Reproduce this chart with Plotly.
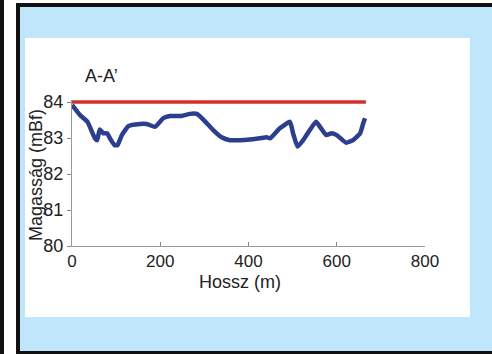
import plotly.graph_objects as go

# Profile A-A': terrain elevation along the section line
distance_m = [0, 18, 35, 52, 57, 63, 71, 80, 86, 97, 103, 113, 128, 154, 169, 188,
              207, 222, 248, 267, 283, 297, 320, 339, 358, 381, 403, 425, 441, 449,
              471, 494, 501, 511, 524, 539, 553, 562, 576, 588, 600, 621, 637, 653,
              660, 664]
elevation_mbf = [83.92, 83.64, 83.45, 82.99, 82.94, 83.24, 83.13, 83.13, 82.99, 82.80,
                 82.80, 83.08, 83.33, 83.39, 83.39, 83.31, 83.55, 83.61, 83.61, 83.67,
                 83.67, 83.52, 83.22, 83.02, 82.94, 82.94, 82.96, 82.99, 83.02, 82.99,
                 83.27, 83.45, 83.13, 82.76, 82.94, 83.22, 83.45, 83.31, 83.08, 83.13,
                 83.08, 82.87, 82.94, 83.13, 83.41, 83.55]

# Reference level along the section
level_x = [0, 666]
level_y = [84, 84]

x_ticks = [0, 200, 400, 600, 800]
y_ticks = [80, 81, 82, 83, 84]

W, H = 492, 354
L, R, T, B = 72, 67, 100, 108
PW, PH = W - L - R, H - T - B
Y0, Y1 = 80, 84 + 2 / 36


def px(x):
    return (x - L) / PW


def py(y):
    return (H - B - y) / PH


def rect(x0, y0, x1, y1, color):
    return dict(type="rect", xref="paper", yref="paper", layer="below",
                x0=px(x0), x1=px(x1), y0=py(y1), y1=py(y0),
                fillcolor=color, line=dict(width=0))


font = "Liberation Sans, Arial, sans-serif"

fig = go.Figure()
fig.add_trace(go.Scatter(x=level_x, y=level_y, mode="lines",
                         line=dict(color="#d2302c", width=3.5), hoverinfo="skip"))
fig.add_trace(go.Scatter(x=distance_m, y=elevation_mbf, mode="lines",
                         line=dict(color="#2c3e8e", width=4.5, shape="spline",
                                   smoothing=0.4)))

fig.update_layout(
    width=W, height=H,
    margin=dict(l=L, r=R, t=T, b=B, pad=0),
    paper_bgcolor="white", plot_bgcolor="white",
    showlegend=False,
    font=dict(family=font, size=18, color="#222"),
    shapes=[
        rect(0, 0, 4, 354, "#111"),
        rect(16, 3, 492, 354, "#111"),
        rect(20, 7, 492, 351, "#bfe6fb"),
        rect(25, 38, 470, 317, "white"),
    ],
    xaxis=dict(range=[0, 800], tickvals=x_ticks, ticks="inside", ticklen=4,
               tickcolor="#888", showline=True, linecolor="#999", linewidth=1,
               showgrid=False, zeroline=False,
               tickfont=dict(family=font, size=17, color="#222")),
    yaxis=dict(range=[Y0, Y1], tickvals=y_ticks, ticks="outside", ticklen=4,
               tickcolor="#888", showline=True, linecolor="#999", linewidth=1,
               showgrid=False, zeroline=False,
               tickfont=dict(family=font, size=18, color="#222")),
    annotations=[
        dict(text="A-A’", xref="paper", yref="paper", x=px(83), y=py(76),
             xanchor="left", yanchor="middle", showarrow=False,
             font=dict(family=font, size=18, color="#222")),
        dict(text="Hossz (m)", xref="paper", yref="paper", x=px(240), y=py(282),
             xanchor="center", yanchor="middle", showarrow=False,
             font=dict(family=font, size=18, color="#222")),
        dict(text="Magasság (mBf)", xref="paper", yref="paper", x=px(36), y=py(175),
             xanchor="center", yanchor="middle", textangle=-90, showarrow=False,
             font=dict(family=font, size=18, color="#222")),
    ],
)

fig.write_html("out.html")
